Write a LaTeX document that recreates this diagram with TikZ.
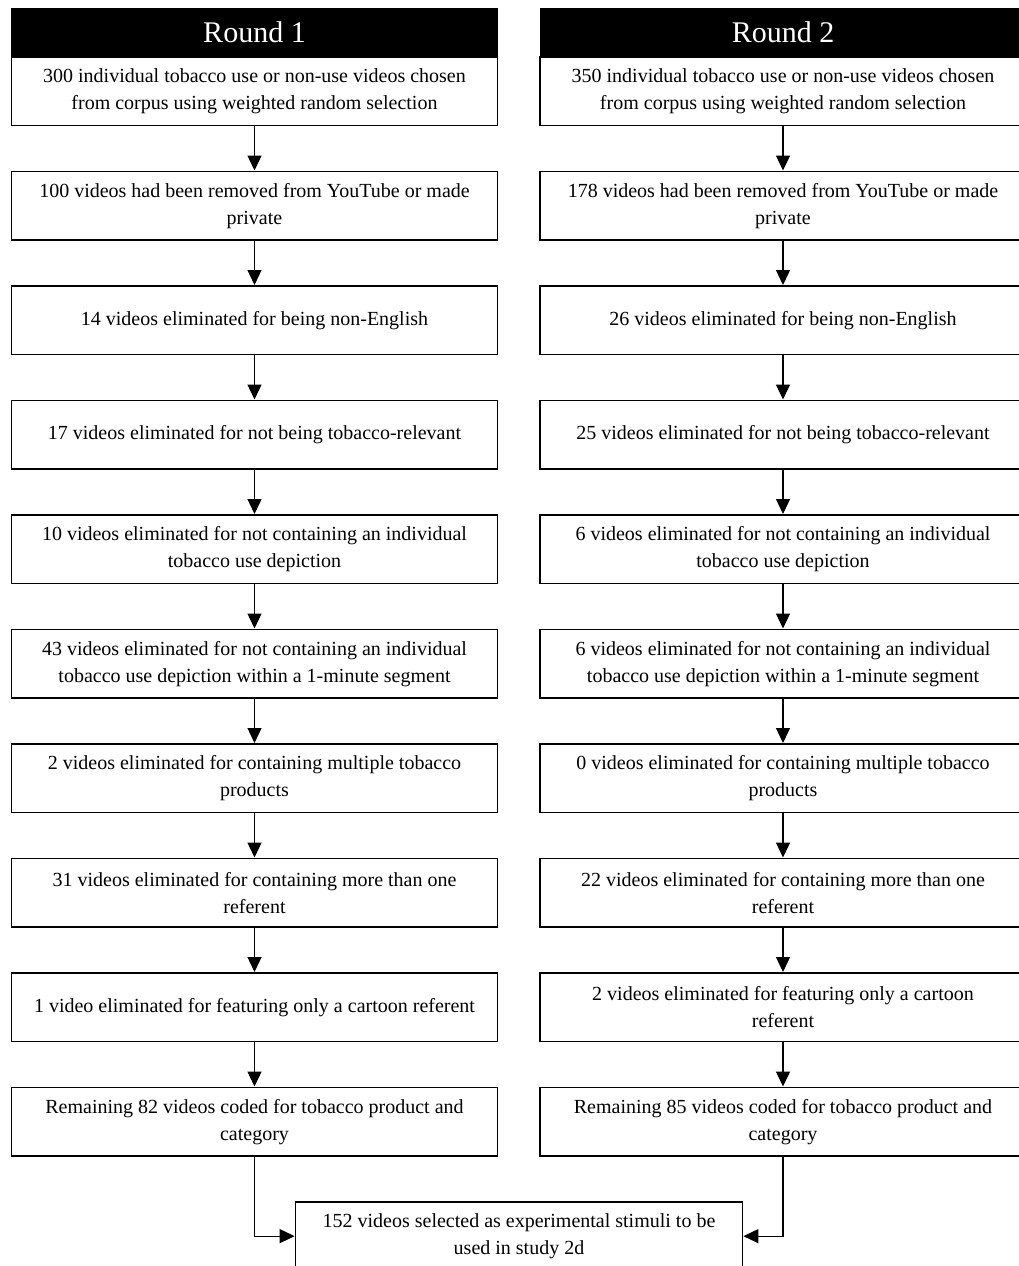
\documentclass[tikz,border=0pt]{standalone}
\usepackage{fontspec}
\setmainfont{Liberation Serif}
\usetikzlibrary{arrows.meta}
\begin{document}
\begin{tikzpicture}[x=1pt,y=-1pt,
  stepbox/.style={draw=black, line width=1.8pt, minimum width=486pt, minimum height=68.5pt,
    inner sep=0pt, align=center, anchor=north, font=\fontsize{20}{27}\selectfont},
  headbox/.style={draw=black, fill=black, text=white, line width=1pt, minimum width=486pt,
    minimum height=48pt, inner sep=0pt, anchor=north, font=\fontsize{30}{34}\selectfont},
  finalbox/.style={stepbox, minimum width=447pt},
  arr/.style={line width=1.3pt, -{Triangle[width=14pt,length=15pt]}}
]
\useasboundingbox (0,0) rectangle (1018,1266);
\fill[white] (0,0) rectangle (1018,1266);

\node[headbox] (HL) at (254.5,8) {Round 1};
\node[headbox] (HR) at (783,8) {Round 2};

\node[stepbox] (L1) at (254.5,56) {300 individual tobacco use or non-use videos chosen\\from corpus using weighted random selection};
\node[stepbox] (L2) at (254.5,170.5) {100 videos had been removed from YouTube or made\\private};
\node[stepbox] (L3) at (254.5,285) {14 videos eliminated for being non-English};
\node[stepbox] (L4) at (254.5,399.5) {17 videos eliminated for not being tobacco-relevant};
\node[stepbox] (L5) at (254.5,514) {10 videos eliminated for not containing an individual\\tobacco use depiction};
\node[stepbox] (L6) at (254.5,628.5) {43 videos eliminated for not containing an individual\\tobacco use depiction within a 1-minute segment};
\node[stepbox] (L7) at (254.5,743) {2 videos eliminated for containing multiple tobacco\\products};
\node[stepbox] (L8) at (254.5,857.5) {31 videos eliminated for containing more than one\\referent};
\node[stepbox] (L9) at (254.5,972) {1 video eliminated for featuring only a cartoon referent};
\node[stepbox] (L10) at (254.5,1086.5) {Remaining 82 videos coded for tobacco product and\\category};

\node[stepbox] (R1) at (783,56) {350 individual tobacco use or non-use videos chosen\\from corpus using weighted random selection};
\node[stepbox] (R2) at (783,170.5) {178 videos had been removed from YouTube or made\\private};
\node[stepbox] (R3) at (783,285) {26 videos eliminated for being non-English};
\node[stepbox] (R4) at (783,399.5) {25 videos eliminated for not being tobacco-relevant};
\node[stepbox] (R5) at (783,514) {6 videos eliminated for not containing an individual\\tobacco use depiction};
\node[stepbox] (R6) at (783,628.5) {6 videos eliminated for not containing an individual\\tobacco use depiction within a 1-minute segment};
\node[stepbox] (R7) at (783,743) {0 videos eliminated for containing multiple tobacco\\products};
\node[stepbox] (R8) at (783,857.5) {22 videos eliminated for containing more than one\\referent};
\node[stepbox] (R9) at (783,972) {2 videos eliminated for featuring only a cartoon\\referent};
\node[stepbox] (R10) at (783,1086.5) {Remaining 85 videos coded for tobacco product and\\category};

\node[finalbox] (F) at (519,1201) {152 videos selected as experimental stimuli to be\\used in study 2d};

\foreach \a/\b in {1/2,2/3,3/4,4/5,5/6,6/7,7/8,8/9,9/10}{
  \draw[arr] (L\a.south) -- (L\b.north);
  \draw[arr] (R\a.south) -- (R\b.north);
}
\draw[arr] (L10.south) |- (F.west);
\draw[arr] (R10.south) |- (F.east);
\end{tikzpicture}
\end{document}
